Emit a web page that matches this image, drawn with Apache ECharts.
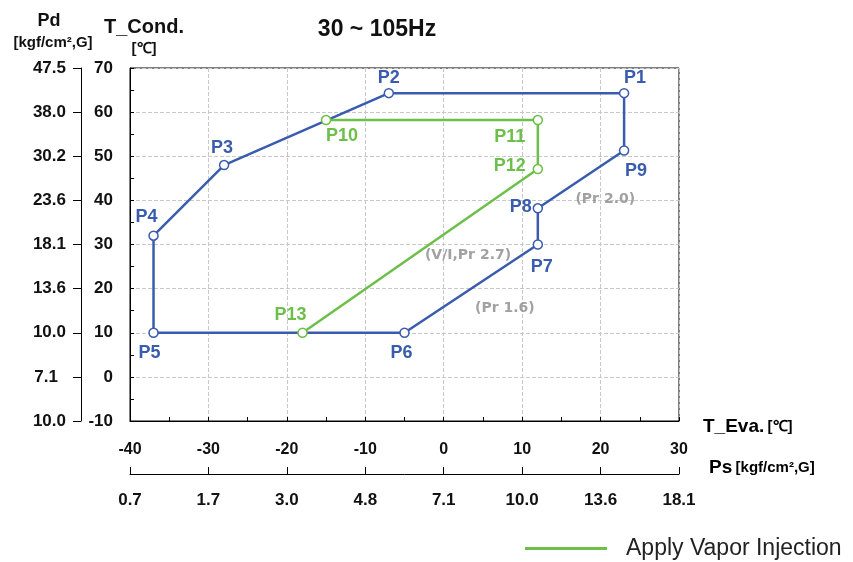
<!DOCTYPE html>
<html>
<head>
<meta charset="utf-8">
<script src="https://cdn.jsdelivr.net/npm/echarts@6/dist/echarts.min.js"></script>
<style>html,body{margin:0;padding:0;background:#fff;}#c{width:853px;height:562px;}</style>
</head>
<body>
<div id="c"></div>
<script>
// ---- data ----
const pointNames = ['P1','P2','P3','P4','P5','P6','P7','P8','P9','P10','P11','P12','P13'];
const tEva  = [23, -7, -28, -37, -37, -5, 12, 12, 23, -15, 12, 12, -18];
const tCond = [64.3, 64.3, 48, 32, 10, 10, 30, 38.2, 51.3, 58.2, 58.2, 47.1, 10];
const rangeOrder = [0,1,2,3,4,5,6,7,8,0];        // operating range loop
const injectionOrder = [9,10,11,12];            // vapor injection path
const annotationTexts = ['(Pr 2.0)', '(V/I,Pr 2.7)', '(Pr 1.6)'];
const annotationX = [20.6, 3.1, 7.8];
const annotationY = [40.2, 27.6, 15.6];
const tEvaTicks = [-40,-30,-20,-10,0,10,20,30];
const psLabels = ['0.7','1.7','3.0','4.8','7.1','10.0','13.6','18.1'];
const tCondTicks = [-10,0,10,20,30,40,50,60,70];
const pdLabels = ['10.0','7.1','10.0','13.6','18.1','23.6','30.2','38.0','47.5'];
const legendName = 'Apply Vapor Injection';

// ---- styles ----
const BLUE = '#3a5cae', GREEN = '#6cbf48', GRAY = '#8a8a8a';
const labelOffsets = [[11,-15],[0,-15],[-2,-17],[-7,-19],[-4,20],[-3,20],[4,23],[-17,-1],[12,21],[16,16],[-28,17],[-28,-3],[-12,-18]];
const pointGroup = [0,0,0,0,0,0,0,0,0,1,1,1,1];

const chart = echarts.init(document.getElementById('c'));
const pts = pointNames.map((n,i)=>({
  name:n, value:[tEva[i], tCond[i]],
  itemStyle:{borderColor: pointGroup[i] ? GREEN : BLUE},
  label:{offset: labelOffsets[i], color: pointGroup[i] ? GREEN : BLUE}
}));
const lineData = order => order.map(i=>[tEva[i], tCond[i]]);
const ann = annotationTexts.map((t,i)=>({name:t, value:[annotationX[i], annotationY[i]]}));

const dash = {type:'dashed', color:'#c8c8c8', width:1, dashOffset:0};
const axisFontB = {fontFamily:'Liberation Sans', fontWeight:'bold', color:'#111'};

chart.setOption({
  animation:false,
  backgroundColor:'#fff',
  grid:{left:130, top:68, width:549, height:353, show:true, borderColor:'#000', borderWidth:1},
  xAxis:[{
    type:'value', min:-40, max:30, interval:10, position:'bottom',
    axisLine:{show:true, onZero:false, lineStyle:{color:'#000', width:1}},
    axisTick:{show:true, inside:true, length:4, lineStyle:{color:'#000'}},
    minorTick:{show:true, splitNumber:2, length:4, lineStyle:{color:'#000'}},
    splitLine:{show:true, lineStyle:dash},
    axisLabel:Object.assign({margin:21, fontSize:16}, axisFontB)
  },{
    type:'value', min:-40, max:30, interval:10, position:'bottom', offset:53,
    axisLine:{show:true, onZero:false, lineStyle:{color:'#000', width:1}},
    axisTick:{show:true, inside:true, length:7, lineStyle:{color:'#000'}},
    splitLine:{show:false},
    axisLabel:Object.assign({margin:18, fontSize:17, formatter:v=>psLabels[tEvaTicks.indexOf(v)]}, axisFontB)
  }],
  yAxis:[{
    type:'value', min:-10, max:70, interval:10, position:'left',
    axisLine:{show:true, onZero:false, lineStyle:{color:'#000', width:1}},
    axisTick:{show:true, inside:true, length:4, lineStyle:{color:'#000'}},
    minorTick:{show:true, splitNumber:2, length:4, lineStyle:{color:'#000'}},
    splitLine:{show:true, lineStyle:dash},
    axisLabel:Object.assign({margin:17, fontSize:17}, axisFontB)
  },{
    type:'value', min:-10, max:70, interval:10, position:'left', offset:49,
    axisLine:{show:true, onZero:false, lineStyle:{color:'#000', width:1}},
    axisTick:{show:true, inside:false, length:8, lineStyle:{color:'#000'}},
    splitLine:{show:false},
    axisLabel:Object.assign({margin:15, fontSize:17,
      formatter:v=>{const s=pdLabels[tCondTicks.indexOf(v)]; return v===0 ? '{p|'+s+'}' : s;},
      rich:{p:{fontFamily:'Liberation Sans', fontWeight:'bold', fontSize:17, color:'#111', padding:[0,8,0,0]}}}, axisFontB)
  }],
  legend:{
    data:[legendName], left:520, top:532, icon:'rect', itemWidth:82, itemHeight:3,
    selectedMode:false,
    textStyle:{fontFamily:'Liberation Sans', fontSize:23, color:'#222', padding:[0,0,14,14]}
  },
  graphic:[
    {type:'text', x:377, y:30, style:{text:'30 ~ 105Hz', fontFamily:'Liberation Sans', fontWeight:'bold', fontSize:23, fill:'#111', align:'center', verticalAlign:'middle'}},
    {type:'text', x:49, y:21, style:{text:'Pd', fontFamily:'Liberation Sans', fontWeight:'bold', fontSize:18, fill:'#111', align:'center', verticalAlign:'middle'}},
    {type:'text', x:53, y:43, style:{text:'[kgf/cm²,G]', fontFamily:'Liberation Sans', fontWeight:'bold', fontSize:15, fill:'#111', align:'center', verticalAlign:'middle'}},
    {type:'text', x:144, y:27, style:{text:'T_Cond.', fontFamily:'Liberation Sans', fontWeight:'bold', fontSize:20, fill:'#111', align:'center', verticalAlign:'middle'}},
    {type:'text', x:144, y:49, style:{text:'[℃]', fontFamily:'Liberation Sans', fontWeight:'bold', fontSize:15, fill:'#111', align:'center', verticalAlign:'middle'}},
    {type:'text', x:703, y:427, style:{text:'{a|T_Eva.} {b|[℃]}', rich:{a:{fontFamily:'Liberation Sans', fontWeight:'bold', fontSize:19, color:'#111'}, b:{fontFamily:'Liberation Sans', fontWeight:'bold', fontSize:15, color:'#111'}}, align:'left', verticalAlign:'middle'}},
    {type:'text', x:709, y:468, style:{text:'{a|Ps} {b|[kgf/cm²,G]}', rich:{a:{fontFamily:'Liberation Sans', fontWeight:'bold', fontSize:19, color:'#111'}, b:{fontFamily:'Liberation Sans', fontWeight:'bold', fontSize:15, color:'#111'}}, align:'left', verticalAlign:'middle'}}
  ],
  series:[
    {type:'line', name:'Operating Range', xAxisIndex:0, yAxisIndex:0, data:lineData(rangeOrder),
     showSymbol:false, symbol:'none', lineStyle:{color:BLUE, width:2.5}, itemStyle:{color:BLUE}, z:2},
    {type:'line', name:legendName, xAxisIndex:0, yAxisIndex:0, data:lineData(injectionOrder),
     showSymbol:false, symbol:'none', lineStyle:{color:GREEN, width:2.5}, itemStyle:{color:GREEN}, z:3},
    {type:'scatter', name:'points', xAxisIndex:0, yAxisIndex:0, data:pts, symbol:'circle', symbolSize:9,
     itemStyle:{color:'#fff', borderWidth:1.5, opacity:1}, z:5,
     label:{show:true, position:'inside', formatter:'{b}', fontFamily:'Liberation Sans', fontWeight:'bold', fontSize:18, align:'center', verticalAlign:'middle'}},
    {type:'scatter', name:'notes', xAxisIndex:0, yAxisIndex:0, data:ann, symbolSize:0, z:4, silent:true,
     label:{show:true, position:'inside', formatter:'{b}', fontFamily:'DejaVu Sans', fontWeight:'bold', fontSize:14, color:GRAY}}
  ]
});
</script>
</body>
</html>
